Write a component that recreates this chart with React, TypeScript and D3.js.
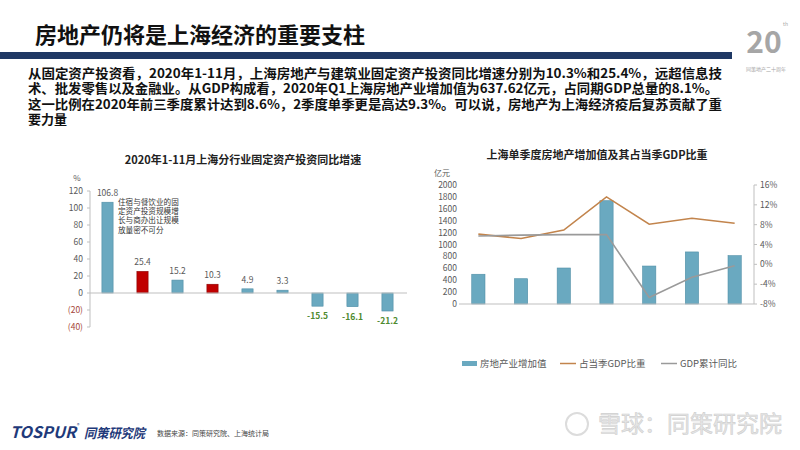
import * as d3 from "d3";

// left chart: 2020年1-11月上海分行业固定资产投资同比增速
const industries = ["住宿和餐饮业", "建筑业", "行业C", "房地产业", "行业E", "行业F", "行业G", "行业H", "行业I"];
const growth = [106.8, 25.4, 15.2, 10.3, 4.9, 3.3, -15.5, -16.1, -21.2];
const highlighted = [false, true, false, true, false, false, false, false, false];
const leftTicks = [120, 100, 80, 60, 40, 20, 0, -20, -40];

// right chart: 上海单季度房地产增加值及其占当季GDP比重
const quarters = ["2019Q1", "2019Q2", "2019Q3", "2019Q4", "2020Q1", "2020Q2", "2020Q3"];
const addedValue = [500, 425, 605, 1736, 638, 875, 812];
const gdpShare = [6.1, 5.2, 6.9, 13.6, 8.1, 9.3, 8.3];
const gdpGrowth = [5.7, 5.9, 6.0, 6.0, -6.7, -2.6, -0.3];
const valueTicks = [0, 200, 400, 600, 800, 1000, 1200, 1400, 1600, 1800, 2000];
const pctTicks = [-8, -4, 0, 4, 8, 12, 16];

const paragraph = [
  "从固定资产投资看，2020年1-11月，上海房地产与建筑业固定资产投资同比增速分别为10.3%和25.4%，远超信息技",
  "术、批发零售以及金融业。从GDP构成看，2020年Q1上海房地产业增加值为637.62亿元，占同期GDP总量的8.1%。",
  "这一比例在2020年前三季度累计达到8.6%，2季度单季更是高达9.3%。可以说，房地产为上海经济疫后复苏贡献了重",
  "要力量",
];
const paraWidths = [694, 690, 694, 0];

const note = ["住宿与餐饮业的固", "定资产投资规模增", "长与商办出让规模", "放量密不可分"];

const FONT = "'Noto Sans CJK SC', 'Noto Sans', sans-serif";
const BLUE = "#6aa9c0";
const RED = "#c00000";
const ORANGE = "#c2844c";
const GRAY_LINE = "#9a9a9a";
const TXT = "#595959";

function LeftChart() {
  const x = d3.scaleBand<string>().domain(industries).range([90, 405]).paddingInner(0.68).paddingOuter(0.34);
  const y = d3.scaleLinear().domain([-40, 120]).range([327, 191]);
  return (
    <g fontFamily={FONT}>
      <text x={243} y={164} textAnchor="middle" fontSize={11} fontWeight="bold" fill="#222">
        2020年1-11月上海分行业固定资产投资同比增速
      </text>
      <text x={77} y={181} textAnchor="middle" fontSize={8} fill={TXT}>%</text>
      {leftTicks.map((t) => (
        <g key={t}>
          <line x1={87} x2={90} y1={y(t)} y2={y(t)} stroke="#bfbfbf" />
          <text x={83} y={y(t) + 3} textAnchor="end" fontSize={8.5} fill={t < 0 ? "#a5453a" : TXT}>
            {t < 0 ? `(${-t})` : t}
          </text>
        </g>
      ))}
      <line x1={90} x2={90} y1={y(120)} y2={y(-40)} stroke="#bfbfbf" />
      {industries.map((c, i) => {
        const v = growth[i];
        const x0 = x(c) as number;
        const top = y(Math.max(v, 0));
        const h = Math.abs(y(v) - y(0));
        return (
          <g key={c}>
            <rect x={x0} y={top} width={x.bandwidth()} height={h} fill={highlighted[i] ? RED : BLUE}
              stroke={highlighted[i] ? "#8a0000" : "#4f8ea6"} strokeWidth={0.6} />
            {v >= 0 ? (
              <text x={x0 + x.bandwidth() / 2} y={top - 6} textAnchor="middle" fontSize={8.5} fill={TXT}>
                {v.toFixed(1)}
              </text>
            ) : (
              <text x={x0 + x.bandwidth() / 2} y={y(v) + 13} textAnchor="middle" fontSize={8.5} fontWeight="bold" fill="#4e8a2e">
                {v.toFixed(1)}
              </text>
            )}
          </g>
        );
      })}
      <line x1={90} x2={407} y1={y(0)} y2={y(0)} stroke="#bfbfbf" />
      {note.map((s, i) => (
        <text key={i} x={118} y={205 + i * 9.2} fontSize={7.6} fill="#333">{s}</text>
      ))}
    </g>
  );
}

function RightChart() {
  const x = d3.scaleBand<string>().domain(quarters).range([457, 756]).paddingInner(0.69).paddingOuter(0.345);
  const yL = d3.scaleLinear().domain([0, 2000]).range([304, 185]);
  const yR = d3.scaleLinear().domain([-8, 16]).range([304, 185]);
  const cx = (q: string) => (x(q) as number) + x.bandwidth() / 2;
  const lineOf = d3.line<number>().x((_, i) => cx(quarters[i])).y((d) => yR(d));
  return (
    <g fontFamily={FONT}>
      <text x={597} y={159} textAnchor="middle" fontSize={11} fontWeight="bold" fill="#222">
        上海单季度房地产增加值及其占当季GDP比重
      </text>
      <text x={442} y={176} textAnchor="middle" fontSize={8} fill={TXT}>亿元</text>
      {valueTicks.map((t) => (
        <text key={t} x={457} y={yL(t) + 3} textAnchor="end" fontSize={8.5} fill={TXT}>{t}</text>
      ))}
      {pctTicks.map((t) => (
        <g key={t}>
          <line x1={754} x2={757} y1={yR(t)} y2={yR(t)} stroke="#bfbfbf" />
          <text x={760} y={yR(t) + 3} fontSize={8.5} fill={TXT}>{t}%</text>
        </g>
      ))}
      <line x1={754} x2={754} y1={185} y2={304} stroke="#bfbfbf" />
      {quarters.map((q, i) => (
        <rect key={q} x={x(q)} y={yL(addedValue[i])} width={x.bandwidth()} height={304 - yL(addedValue[i])}
          fill={BLUE} stroke="#4f8ea6" strokeWidth={0.6} />
      ))}
      <line x1={459} x2={754} y1={304} y2={304} stroke="#bfbfbf" />
      <path d={lineOf(gdpShare) as string} fill="none" stroke={ORANGE} strokeWidth={1.6} />
      <path d={lineOf(gdpGrowth) as string} fill="none" stroke={GRAY_LINE} strokeWidth={1.6} />
      <g fontSize={9.5} fill={TXT}>
        <rect x={462} y={361} width={15} height={5} fill={BLUE} />
        <text x={480} y={367}>房地产业增加值</text>
        <line x1={560} x2={576} y1={363.5} y2={363.5} stroke={ORANGE} strokeWidth={1.5} />
        <text x={579} y={367}>占当季GDP比重</text>
        <line x1={661} x2={677} y1={363.5} y2={363.5} stroke={GRAY_LINE} strokeWidth={1.5} />
        <text x={680} y={367}>GDP累计同比</text>
      </g>
    </g>
  );
}

export default function App() {
  return (
    <svg width={800} height={450} style={{ position: "absolute", left: 0, top: 0, background: "#fff" }}>
      <text x={35} y={43} fontFamily={FONT} fontSize={22} fontWeight="bold" fill="#111">
        房地产仍将是上海经济的重要支柱
      </text>
      <rect x={0} y={52} width={732} height={7} fill="#1f3864" />
      <g fontFamily={FONT} fill="#a6a6a6">
        <text x={764} y={53} textAnchor="middle" fontSize={30} fontWeight="bold">20</text>
        <text x={783} y={26} fontSize={5}>th</text>
        <text x={766} y={71} textAnchor="middle" fontSize={5}>同策地产二十周年</text>
      </g>
      {paragraph.map((s, i) => (
        <text key={i} x={28} y={78 + i * 15.3} fontFamily={FONT} fontSize={13} fontWeight="bold" fill="#111"
          {...(paraWidths[i] ? { textLength: paraWidths[i], lengthAdjust: "spacingAndGlyphs" } : {})}>
          {s}
        </text>
      ))}
      <LeftChart />
      <RightChart />
      <g fontFamily={FONT}>
        <text x={10} y={438} fontSize={16} fontWeight="bold" fontStyle="italic" fill="#1f3a7a"
          textLength={66} lengthAdjust="spacingAndGlyphs">TOSPUR</text>
        <text x={77} y={427} fontSize={5} fill="#1f3a7a">®</text>
        <text x={84} y={438} fontSize={13} fontWeight="bold" fontStyle="italic" fill="#1f3a7a"
          textLength={61} lengthAdjust="spacingAndGlyphs">同策研究院</text>
        <text x={157} y={436} fontSize={7} fill="#444">数据来源：同策研究院、上海统计局</text>
      </g>
      <g fontFamily={FONT}>
        <circle cx={577} cy={424} r={11} fill="none" stroke="#dcdcdc" strokeWidth={2} />
        <text x={598} y={432} fontSize={23} fill="#e6e6e6" stroke="#cfcfcf" strokeWidth={0.6}>雪球：同策研究院</text>
      </g>
    </svg>
  );
}
